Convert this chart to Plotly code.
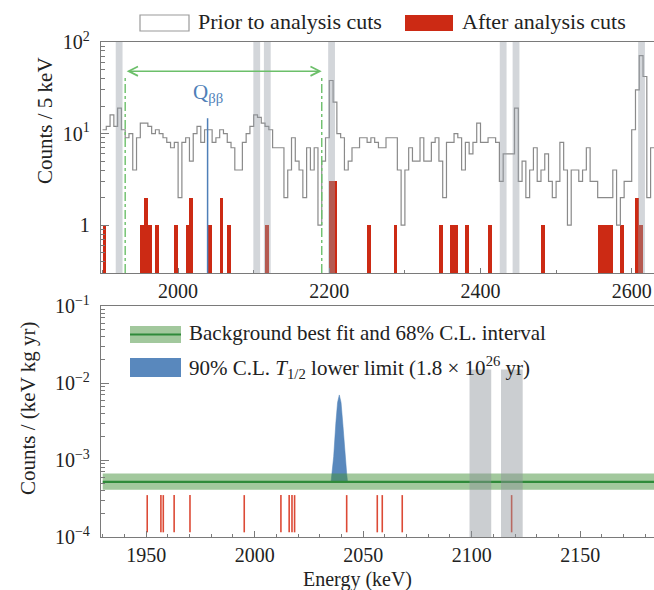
import math
import plotly.graph_objects as go

# ---------------- data ----------------
BIN_WIDTH = 5
HIST_START = 1900
# counts per 5 keV prior to analysis cuts (bins from 1900 keV)
prior_counts = [
    11, 12, 16, 12, 19, 11, 9, 10, 4, 9,        # 1900-1945
    13, 13, 12, 10, 11, 10, 9, 8, 7, 8,         # 1950-1995
    2, 8, 9, 5, 10, 12, 8, 11, 11, 8,           # 2000-2045
    9, 11, 10, 8, 7, 4, 4, 8, 10, 12,           # 2050-2095
    16, 15, 13, 12, 11, 7, 7, 7, 2, 4,          # 2100-2145
    9, 5, 4, 2, 7, 4, 7, 1, 5, 9,               # 2150-2195
    38, 22, 10, 9, 4, 5, 7, 7, 9, 9,            # 2200-2245
    8, 9, 8, 7, 7, 9, 9, 9, 4, 1,               # 2250-2295
    4, 7, 5, 5, 9, 5, 5, 8, 9, 5,               # 2300-2345
    2, 8, 8, 10, 9, 4, 8, 6, 8, 13,             # 2350-2395
    8, 8, 9, 9, 8, 3, 6, 6, 6, 19,              # 2400-2445
    3, 5, 2, 4, 7, 3, 4, 6, 3, 2,               # 2450-2495
    3, 8, 4, 1, 4, 4, 3, 4, 7, 3,               # 2500-2545
    3, 2, 2, 2, 2, 4, 1, 2, 3, 3,               # 2550-2595
    11, 30, 71, 42, 2, 7,                       # 2600-2625
]
# counts per 5 keV after analysis cuts (bin start energies)
after_bins = [1900, 1950, 1955, 1960, 1970, 1995, 2010, 2015, 2040, 2055,
              2065, 2115, 2200, 2205, 2250, 2285, 2345, 2360, 2365, 2380,
              2410, 2480, 2555, 2560, 2565, 2570, 2585, 2605, 2610]
after_counts = [1, 1, 2, 1, 1, 1, 1, 2, 1, 2,
                1, 1, 3, 3, 1, 1, 1, 1, 1, 1,
                1, 1, 1, 1, 1, 1, 1, 2, 1]

Q_BB = 2039
FIT_WINDOW = [1930, 2190]
ARROW_LEVEL = 48
top_veto_centers = [1922, 2104, 2118, 2203, 2430, 2447, 2613]
top_veto_half = 4.5
bottom_veto_windows = [(2099, 2109), (2113.5, 2123.5)]

bkg_best = 5.2e-4
bkg_lo, bkg_hi = 4.1e-4, 6.7e-4
events = [1950.5, 1956.8, 1957.9, 1962.9, 1970.2, 1995.2, 2012.1, 2015.9,
          2017.2, 2018.4, 2042.4, 2056.5, 2058.8, 2068.0, 2118.4]
signal_E = [2035.2, 2035.6, 2036.4, 2037.4, 2038.2, 2039.0, 2039.8, 2040.6,
            2041.6, 2042.4, 2042.8]
signal_y = [5.2e-4, 6.7e-4, 1.1e-3, 3.0e-3, 5.6e-3, 7.0e-3, 5.6e-3, 3.0e-3,
            1.1e-3, 6.7e-4, 5.2e-4]

top_ticks = [2000, 2200, 2400, 2600]
bottom_ticks = [1950, 2000, 2050, 2100, 2150]

# ---------------- layout geometry ----------------
W, H = 654, 590
ML, MR, MT, MB = 101, 0, 42, 53
PW = W - ML - MR
PH = H - MT - MB


def pxx(x):
    return (x - ML) / PW


def pxy(y):
    return (H - MB - y) / PH


FONT = "Liberation Serif"
RED = "#cc2a14"
GRAY_LINE = "#8a8a8a"
AXIS_COL = "#7a7a7a"
GREEN_L = "#6cbf6a"
BLUE = "#4f7fb8"

fig = go.Figure()

# top panel: prior to cuts (step line)
edges = [HIST_START + BIN_WIDTH * i for i in range(len(prior_counts) + 1)]
fig.add_trace(go.Scatter(
    x=edges, y=prior_counts + [prior_counts[-1]], mode="lines",
    line=dict(shape="hv", color=GRAY_LINE, width=1.2),
    xaxis="x", yaxis="y", showlegend=False, hoverinfo="skip"))

# top panel: after cuts (bars)
fig.add_trace(go.Bar(
    x=[b + BIN_WIDTH / 2 for b in after_bins], y=after_counts,
    width=BIN_WIDTH, marker=dict(color=RED, line=dict(width=0)),
    xaxis="x", yaxis="y", showlegend=False, hoverinfo="skip"))

# bottom panel: signal peak
fig.add_trace(go.Scatter(
    x=signal_E, y=signal_y, mode="lines", fill="toself",
    fillcolor="rgba(80,130,185,0.95)", line=dict(color="rgba(80,130,185,1)", width=0.5),
    xaxis="x2", yaxis="y2", showlegend=False, hoverinfo="skip"))

# bottom panel: background band
fig.add_trace(go.Scatter(
    x=FIT_WINDOW, y=[bkg_lo, bkg_lo], mode="lines", line=dict(width=0),
    xaxis="x2", yaxis="y2", showlegend=False, hoverinfo="skip"))
fig.add_trace(go.Scatter(
    x=FIT_WINDOW, y=[bkg_hi, bkg_hi], mode="lines", line=dict(width=0),
    fill="tonexty", fillcolor="rgba(70,145,60,0.5)",
    xaxis="x2", yaxis="y2", showlegend=False, hoverinfo="skip"))
fig.add_trace(go.Scatter(
    x=FIT_WINDOW, y=[bkg_best, bkg_best], mode="lines",
    line=dict(color="#2f8a3a", width=2.2),
    xaxis="x2", yaxis="y2", showlegend=False, hoverinfo="skip"))

# bottom panel: events
ev_x, ev_y = [], []
EV_LO, EV_HI = 1.15e-4, 3.5e-4
for e in events:
    ev_x += [e, e, None]
    ev_y += [EV_LO, EV_HI, None]
fig.add_trace(go.Scatter(
    x=ev_x, y=ev_y, mode="lines", line=dict(color="#dc4a36", width=1.6),
    xaxis="x2", yaxis="y2", showlegend=False, hoverinfo="skip"))

shapes = []
# top veto bands
for c in top_veto_centers:
    shapes.append(dict(type="rect", xref="x", yref="y domain",
                       x0=c - top_veto_half, x1=c + top_veto_half, y0=0, y1=1,
                       fillcolor="rgba(150,158,166,0.42)", line=dict(width=0),
                       layer="above"))
# bottom veto bands
for a, b in bottom_veto_windows:
    shapes.append(dict(type="rect", xref="x2", yref="y2 domain",
                       x0=a, x1=b, y0=0, y1=(math.log10(0.015) + 4) / 3,
                       fillcolor="rgba(140,146,152,0.45)", line=dict(width=0),
                       layer="above"))
# fit window dash-dot lines
for e in FIT_WINDOW:
    shapes.append(dict(type="line", xref="x", yref="y domain",
                       x0=e, x1=e, y0=0, y1=0.855,
                       line=dict(color=GREEN_L, width=1.4, dash="dashdot")))
# Q_bb line
shapes.append(dict(type="line", xref="x", yref="y domain",
                   x0=Q_BB, x1=Q_BB, y0=0, y1=0.67,
                   line=dict(color=BLUE, width=1.5)))

# legend swatches (top)
shapes.append(dict(type="rect", xref="paper", yref="paper",
                   x0=pxx(140), x1=pxx(189), y0=pxy(31), y1=pxy(15),
                   fillcolor="white", line=dict(color="#9a9a9a", width=1.2)))
shapes.append(dict(type="rect", xref="paper", yref="paper",
                   x0=pxx(405), x1=pxx(453), y0=pxy(31), y1=pxy(15),
                   fillcolor=RED, line=dict(width=0)))
# legend swatches (bottom)
shapes.append(dict(type="rect", xref="paper", yref="paper",
                   x0=pxx(130), x1=pxx(181), y0=pxy(343), y1=pxy(326),
                   fillcolor="rgba(70,145,60,0.5)", line=dict(width=0)))
shapes.append(dict(type="line", xref="paper", yref="paper",
                   x0=pxx(130), x1=pxx(181), y0=pxy(334.5), y1=pxy(334.5),
                   line=dict(color="#2f8a3a", width=2.2)))
shapes.append(dict(type="rect", xref="paper", yref="paper",
                   x0=pxx(130), x1=pxx(181), y0=pxy(377), y1=pxy(358),
                   fillcolor="rgba(80,130,185,0.95)", line=dict(width=0)))

annotations = [
    dict(text="Prior to analysis cuts", xref="paper", yref="paper",
         x=pxx(196), y=pxy(22), xanchor="left", yanchor="middle", showarrow=False,
         font=dict(family=FONT, size=22, color="#222")),
    dict(text="After analysis cuts", xref="paper", yref="paper",
         x=pxx(460), y=pxy(22), xanchor="left", yanchor="middle", showarrow=False,
         font=dict(family=FONT, size=22, color="#222")),
    dict(text="Background best fit and 68% C.L. interval", xref="paper", yref="paper",
         x=pxx(187), y=pxy(333), xanchor="left", yanchor="middle", showarrow=False,
         font=dict(family=FONT, size=21, color="#222")),
    dict(text="90% C.L. <i>T</i><sub>1/2</sub> lower limit (1.8 × 10<sup>26</sup> yr)",
         xref="paper", yref="paper",
         x=pxx(187), y=pxy(367), xanchor="left", yanchor="middle", showarrow=False,
         font=dict(family=FONT, size=21, color="#222")),
    dict(text="Q<sub>ββ</sub>", xref="x", yref="paper",
         x=Q_BB, y=pxy(93), xanchor="center", yanchor="middle", showarrow=False,
         font=dict(family=FONT, size=21, color=BLUE)),
    dict(text="Counts / 5 keV", xref="paper", yref="paper",
         x=pxx(45), y=pxy(121), xanchor="center", yanchor="middle", showarrow=False,
         textangle=-90, font=dict(family=FONT, size=21, color="#222")),
    dict(text="Counts / (keV kg yr)", xref="paper", yref="paper",
         x=pxx(28), y=pxy(409), xanchor="center", yanchor="middle", showarrow=False,
         textangle=-90, font=dict(family=FONT, size=21, color="#222")),
    dict(text="Energy (keV)", xref="paper", yref="paper",
         x=pxx(357), y=pxy(579), xanchor="center", yanchor="middle", showarrow=False,
         font=dict(family=FONT, size=20, color="#222")),
    # fit window arrow
    dict(text="", xref="x", yref="y", axref="x", ayref="y",
         x=FIT_WINDOW[1], y=math.log10(ARROW_LEVEL),
         ax=FIT_WINDOW[0], ay=math.log10(ARROW_LEVEL),
         showarrow=True, arrowhead=5, startarrowhead=5, arrowside="end+start",
         arrowsize=1.3, startarrowsize=1.3, arrowwidth=1.4, arrowcolor=GREEN_L),
]

TF = dict(family=FONT, size=20, color="#222")
minor_top = [m * 10 ** k for k in (-1, 0, 1) for m in range(2, 10) if m * 10 ** k >= 0.3]
minor_bot = [m * 10 ** k for k in (-4, -3, -2) for m in range(2, 10)]

axis_common = dict(showgrid=False, zeroline=False, showline=True,
                   linecolor=AXIS_COL, linewidth=1.3, tickcolor=AXIS_COL,
                   tickfont=TF, ticks="inside")

fig.update_layout(
    width=W, height=H,
    margin=dict(l=ML, r=MR, t=MT, b=MB),
    paper_bgcolor="white", plot_bgcolor="white",
    showlegend=False, bargap=0,
    xaxis=dict(domain=[0, 1], anchor="y", range=[1898, 2629.5],
               tickvals=top_ticks, ticklen=5, mirror=True,
               minor=dict(dtick=100, tick0=1900, ticks="inside", ticklen=3,
                          tickcolor=AXIS_COL),
               **axis_common),
    yaxis=dict(domain=[pxy(273), 1], anchor="x", type="log",
               range=[math.log10(0.3), 2],
               tickvals=[1, 10, 100], ticktext=["1", "10<sup>1</sup>", "10<sup>2</sup>"],
               ticklen=8, ticklabelstandoff=6,
               minor=dict(tickvals=minor_top, ticks="inside", ticklen=4,
                          tickcolor=AXIS_COL),
               **axis_common),
    xaxis2=dict(domain=[0, 1], anchor="y2", range=[1929.2, 2184],
                tickvals=bottom_ticks, ticklen=6, mirror=True,
                minor=dict(dtick=10, tick0=1930, ticks="inside", ticklen=3,
                           tickcolor=AXIS_COL),
                **axis_common),
    yaxis2=dict(domain=[0, pxy(306)], anchor="x2", type="log", range=[-4, -1],
                tickvals=[1e-4, 1e-3, 1e-2, 1e-1],
                ticktext=["10<sup>−4</sup>", "10<sup>−3</sup>", "10<sup>−2</sup>", "10<sup>−1</sup>"],
                ticklen=8, ticklabelstandoff=6,
                minor=dict(tickvals=minor_bot, ticks="inside", ticklen=4,
                           tickcolor=AXIS_COL),
                **axis_common),
    shapes=shapes,
    annotations=annotations,
)

fig.write_html("out.html")
